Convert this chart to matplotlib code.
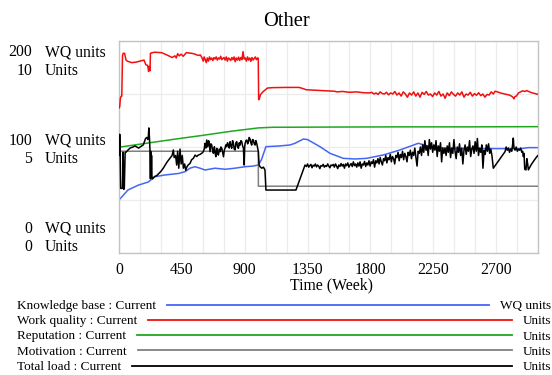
import numpy as np
import matplotlib
matplotlib.use("Agg")
import matplotlib.pyplot as plt
from matplotlib.lines import Line2D

plt.rcParams['font.family'] = ['Liberation Serif', 'DejaVu Serif']

# ---------------- data ----------------
title = "Other"
x_label = "Time (Week)"
x_ticks = [0, 450, 900, 1350, 1800, 2250, 2700]

series_names = ["Knowledge base : Current", "Work quality : Current",
                "Reputation : Current", "Motivation : Current",
                "Total load : Current"]
series_units = ["WQ units", "Units", "Units", "Units", "Units"]

# Knowledge base (WQ units)
kb_t = [0, 64, 138, 210, 258, 329, 425, 473, 508, 544, 580, 616, 687, 760, 830,
        902, 960, 997, 1020, 1052, 1150, 1224, 1260, 1320, 1350, 1439, 1511,
        1606, 1690, 1773, 1893, 2012, 2143, 2227, 2334, 2500, 2700, 2880, 2931, 3000]
kb_v = [50, 59.4, 64, 67, 72, 73.6, 75, 76.7, 80, 81.4, 80, 78.3, 80, 79, 80,
        81.4, 82, 83, 88, 100.3, 101, 101.9, 103.5, 107.5, 107, 100.3, 94,
        89.3, 88.7, 89.3, 92.5, 97.2, 103.5, 100.3, 98.8, 98.5, 98.5, 98.5, 99.4, 99.4]

# Work quality (Units)
wq_t = [0, 5, 10, 15, 20, 25, 30, 40, 50, 60, 90, 120, 154, 179, 192, 205, 212, 217,
        222, 225, 240, 255, 305, 340, 381, 400, 410, 420, 432, 445, 460, 482, 520,
        545, 565, 583, 595, 603, 610, 618, 625, 632, 640, 648, 656, 664, 672, 680,
        688, 696, 704, 712, 720, 728, 736, 744, 752, 760, 768, 776, 784, 792, 800,
        808, 816, 824, 832, 840, 848, 856, 864, 872, 880, 888, 896, 904, 912, 920,
        928, 936, 944, 952, 960, 968, 976, 984, 992, 997, 1000, 1006, 1013, 1030,
        1063, 1100, 1200, 1290, 1320, 1341, 1400, 1450, 1500, 1543, 1560, 1600,
        1650, 1700, 1750, 1795, 1810, 1825, 1840, 1855, 1870, 1885, 1900, 1915,
        1930, 1945, 1960, 1975, 1990, 2005, 2020, 2035, 2050, 2065, 2080, 2095,
        2110, 2125, 2140, 2155, 2170, 2185, 2200, 2215, 2230, 2245, 2260, 2275,
        2290, 2305, 2320, 2335, 2350, 2365, 2380, 2395, 2410, 2425, 2440, 2455,
        2470, 2485, 2500, 2515, 2530, 2545, 2560, 2575, 2590, 2605, 2620, 2635,
        2650, 2665, 2680, 2692, 2710, 2730, 2750, 2765, 2780, 2795, 2810, 2820,
        2828, 2835, 2845, 2860, 2875, 2890, 2905, 2920, 2940, 2960, 2980, 3000]
wq_v = [6.84, 6.9, 7.3, 7.39, 7.4, 9.3, 9.42, 9.42, 9.1, 9.05, 8.98, 9.0, 9.06, 9.1,
        8.88, 8.85, 8.56, 8.8, 8.6, 9.42, 9.45, 9.47, 9.45, 9.35, 9.22, 9.3, 9.2,
        9.4, 9.3, 9.38, 9.28, 9.45, 9.42, 9.38, 9.32, 9.34, 9.2, 9.05, 9.25, 9.1,
        8.98, 9.2, 9.05, 9.25, 9.12, 9.2, 9.08, 9.22, 9.15, 9.25, 9.1, 9.2, 9.15,
        9.28, 9.12, 9.18, 9.22, 9.1, 9.25, 9.05, 9.2, 9.15, 9.08, 9.22, 9.12, 9.25,
        9.02, 9.2, 9.1, 9.24, 9.08, 9.22, 9.12, 9.5, 9.15, 9.2, 9.05, 9.25, 9.1,
        9.2, 9.04, 9.22, 9.1, 9.18, 9.25, 9.12, 9.2, 9.19, 7.23, 7.3, 7.47, 7.6,
        7.78, 7.8, 7.81, 7.81, 7.75, 7.7, 7.68, 7.66, 7.65, 7.63, 7.6, 7.62, 7.58,
        7.6, 7.56, 7.55, 7.58, 7.5, 7.55, 7.48, 7.6, 7.52, 7.5, 7.58, 7.46, 7.55,
        7.5, 7.62, 7.45, 7.55, 7.4, 7.6, 7.5, 7.35, 7.55, 7.45, 7.6, 7.4, 7.55,
        7.35, 7.58, 7.48, 7.62, 7.45, 7.5, 7.38, 7.55, 7.45, 7.62, 7.4, 7.5, 7.3,
        7.55, 7.42, 7.6, 7.48, 7.4, 7.55, 7.45, 7.6, 7.35, 7.5, 7.45, 7.58, 7.4,
        7.52, 7.44, 7.56, 7.42, 7.5, 7.35, 7.48, 7.45, 7.6, 7.5, 7.63, 7.6, 7.55,
        7.52, 7.5, 7.47, 7.45, 7.4, 7.35, 7.27, 7.38, 7.4, 7.55, 7.6, 7.65, 7.62,
        7.66, 7.6, 7.55, 7.52, 7.48]

# Reputation (Units)
rep_t = [0, 200, 400, 600, 800, 997, 1100, 1500, 2000, 2500, 3000]
rep_v = [4.99, 5.18, 5.37, 5.55, 5.74, 5.90, 5.93, 5.94, 5.95, 5.95, 5.96]

# Motivation (Units)
mot_t = [0, 997, 998, 3000]
mot_v = [4.8, 4.8, 3.15, 3.15]

# Total load (Units)
tl_t = [0, 2, 5, 8, 12, 18, 25, 30, 34, 38, 44, 50, 56, 79, 100, 115, 140, 174,
        190, 200, 206, 210, 214, 218, 222, 225, 227, 230, 233, 236, 240, 253, 270,
        300, 317, 345, 365, 380, 389, 395, 405, 413, 420, 428, 437, 445, 453, 461,
        470, 478, 485, 495, 509,
        520, 533, 545, 556, 568, 580, 592, 604, 610, 616, 622, 628, 635, 641, 645,
        652, 658, 664, 670, 676, 683, 688, 693, 700, 706, 712, 718, 724, 730, 736,
        742, 748, 754, 759, 765, 771, 777, 783, 789, 795, 801, 807, 813, 819, 825,
        831, 837, 843, 849, 855, 861, 867, 873, 879, 885, 891, 896, 900, 903, 909,
        915, 921, 927, 932, 938, 944, 950, 956, 962, 968, 974, 980, 986, 990, 993,
        998, 1003, 1010, 1022, 1034, 1045, 1052, 1267,
        1332, 1342, 1350, 1358, 1366, 1374, 1382, 1390, 1398, 1406, 1414, 1422,
        1430, 1438, 1446, 1454, 1462, 1470, 1478, 1486, 1494, 1502, 1510, 1518,
        1526, 1534, 1542, 1550, 1558, 1566, 1574, 1582, 1590, 1598, 1606, 1614,
        1622, 1630, 1638, 1646, 1654, 1662, 1670, 1678, 1686,
        1694, 1702, 1710, 1718, 1726, 1734, 1742, 1750, 1758, 1766, 1774, 1782,
        1790, 1798, 1806, 1814, 1822, 1830, 1838, 1846, 1854, 1862, 1870, 1878,
        1886, 1894, 1902, 1910, 1918, 1926, 1934, 1942, 1950, 1958, 1966, 1974,
        1982, 1990, 1998, 2006, 2014, 2022, 2030, 2038, 2046, 2054, 2062, 2070,
        2078, 2086, 2094, 2102, 2110, 2118, 2126, 2134, 2142, 2150, 2158, 2166,
        2174, 2182, 2190, 2198, 2206, 2214, 2222, 2230, 2238, 2246, 2254, 2262,
        2270, 2278, 2286, 2294, 2302, 2310, 2318, 2326, 2334,
        2342, 2350, 2358, 2366, 2374, 2382, 2390, 2398, 2406, 2414, 2422, 2430,
        2438, 2446, 2454, 2462, 2470, 2478, 2486, 2494, 2502, 2510, 2518, 2526,
        2534, 2542, 2550, 2558, 2566, 2574, 2582, 2590, 2598, 2606, 2614, 2622,
        2630, 2638, 2646, 2654, 2662, 2670, 2680,
        2764, 2772, 2780, 2788, 2796, 2804, 2812, 2818, 2823, 2828, 2836, 2844,
        2852, 2860, 2868, 2876, 2884, 2890, 2895, 2900, 2905, 2914, 2920, 2926,
        2931, 2950, 2970, 2991, 3000]
tl_v = [5.55, 4.6, 5.6, 4.9, 3.05, 3.05, 3.05, 4.75, 3.0, 3.05, 4.75, 4.75, 4.8,
        4.95, 5.0, 5.05, 4.95, 5.1, 5.4, 5.45, 5.35, 5.5, 5.9, 5.45, 4.8, 3.5, 4.8,
        3.55, 4.6, 3.6, 3.5, 3.6, 3.65, 3.85, 4.0, 4.3, 4.47, 4.6, 4.86, 4.5, 4.6,
        4.15, 4.8, 4.0, 4.9, 4.2, 4.6, 4.0, 4.2, 3.9, 4.05, 4.15, 4.23,
        4.4, 4.47, 4.62, 4.55, 4.62, 4.65, 4.70, 4.78, 4.9, 5.17, 4.95, 5.33, 5.01,
        5.3, 5.25, 4.78, 5.15, 5.09, 4.85, 4.70, 5.01, 4.75, 4.54, 4.94, 4.7, 4.62,
        4.9, 4.78, 5.0, 4.94, 4.75, 4.54, 4.85, 4.94, 5.1, 5.01, 5.2, 5.09, 4.95,
        5.25, 5.05, 4.94, 5.3, 5.17, 4.9, 4.86, 5.2, 5.25, 5.0, 4.94, 5.2, 5.09,
        5.3, 5.25, 5.05, 4.94, 4.15, 5.0, 5.17, 5.3, 5.33, 5.15, 5.25, 5.45, 5.38,
        5.2, 5.09, 5.35, 5.33, 5.15, 5.09, 5.3, 5.17, 5.05, 4.94, 4.78, 4.15, 4.07,
        4.0, 4.05, 3.92, 2.97, 2.97,
        4.15, 4.08, 4.2, 4.05, 4.12, 4.18, 4.02, 4.14, 4.1, 4.2, 4.06, 4.15, 4.1,
        3.98, 4.12, 4.1, 4.18, 4.05, 4.12, 4.08, 4.2, 4.1, 4.02, 4.15, 4.12, 4.18,
        4.05, 4.2, 4.1, 3.98, 4.15, 4.08, 4.22, 4.1, 4.18, 4.0, 4.2, 4.12, 4.25,
        4.05, 4.15, 4.22, 4.08, 4.3, 4.12,
        4.2, 4.05, 4.25, 4.1, 4.3, 4.0, 4.2, 4.15, 4.32, 4.08, 4.25, 4.15, 4.35,
        4.1, 4.3, 4.22, 4.4, 4.05, 4.35, 4.25, 4.45, 4.2, 4.5, 4.3, 4.15, 4.45,
        4.35, 4.6, 4.25, 4.5, 4.4, 4.65, 4.3, 4.55, 4.45, 4.2, 4.6, 4.5, 4.75,
        4.35, 4.65, 4.5, 4.8, 4.4, 4.7, 4.55, 4.3, 4.75, 4.6, 4.85, 4.45, 4.75,
        4.6, 4.95, 4.5, 4.1, 4.8, 4.7, 5.0, 4.6, 5.1, 4.75, 5.3, 4.85, 5.05, 4.6,
        5.35, 4.9, 5.2, 4.75, 5.1, 4.85, 5.3, 4.55, 5.05, 4.8, 5.2, 4.3, 4.95,
        4.7, 4.95,
        4.6, 5.05, 4.75, 5.2, 4.5, 4.95, 4.7, 5.35, 4.8, 4.45, 5.0, 4.75, 5.15,
        4.6, 4.95, 4.2, 4.85, 5.1, 4.65, 5.0, 4.8, 5.3, 4.55, 4.9, 5.05, 4.7,
        5.25, 4.8, 5.4, 4.6, 4.95, 4.75, 5.1, 4.0, 4.85, 4.65, 5.1, 4.8, 5.15,
        4.7, 4.9, 4.6, 4.0,
        4.78, 5.0, 4.85, 4.95, 4.75, 4.9, 4.8, 5.1, 5.42, 4.95, 4.85, 5.0, 4.8,
        4.9, 4.85, 4.95, 4.75, 4.8, 4.55, 4.7, 3.95, 3.92, 4.45, 4.2, 3.92, 4.15,
        4.35, 4.54, 4.6]

colors = ["#4466f5", "#f01010", "#20a820", "#808080", "#000000"]

# ---------------- figure ----------------
W, H = 552, 375
fig = plt.figure(figsize=(W / 100, H / 100), dpi=100)
L, R, T, B = 119, 538, 41, 253
ax = fig.add_axes([L / W, 1 - B / H, (R - L) / W, (B - T) / H])
ax.set_xlim(0, 3000)
ax.set_ylim(0, 200)
ax.set_xticks(np.arange(0, 3001, 150))
ax.set_yticks([0, 50, 100, 150, 200])
ax.tick_params(length=0, labelbottom=False, labelleft=False)
ax.grid(True, color="#ececec", lw=0.9)
ax.set_axisbelow(True)
for s in ax.spines.values():
    s.set_color("#c4c4c4")
    s.set_linewidth(1.0)

ax2 = ax.twinx()
ax2.set_ylim(0, 10)
ax2.set_xlim(0, 3000)
ax2.set_yticks([])
for s in ax2.spines.values():
    s.set_visible(False)

lw = 1.1
ax.plot(kb_t, kb_v, color=colors[0], lw=lw)
ax2.plot(wq_t, wq_v, color=colors[1], lw=lw)
ax2.plot(rep_t, rep_v, color=colors[2], lw=lw)
ax2.plot(mot_t, mot_v, color=colors[3], lw=lw)
ax2.plot(tl_t, tl_v, color=colors[4], lw=lw)

fs_axis = 11.3
# y labels: (value WQ, value Units, offsets of two baselines below gridline in px)
ylab = [(200, 10, 15.3, 33.8), (100, 5, -2.2, 15.8), (0, 0, -20.2, -1.7)]
for wqv, uv, o1, o2 in ylab:
    for txt, unit, off in [(f"{wqv}", "WQ units", o1), (f"{uv}", "Units", o2)]:
        ax.annotate(txt, xy=(32, wqv), xycoords=("figure pixels", "data"),
                    xytext=(0, -off), textcoords="offset pixels",
                    ha="right", va="baseline", fontsize=fs_axis, annotation_clip=False)
        ax.annotate(unit, xy=(45, wqv), xycoords=("figure pixels", "data"),
                    xytext=(0, -off), textcoords="offset pixels",
                    ha="left", va="baseline", fontsize=fs_axis, annotation_clip=False)

for xt in x_ticks:
    ax.annotate(str(xt), xy=(xt, 0), xycoords=("data", "axes fraction"),
                xytext=(0, -20.5), textcoords="offset pixels",
                ha="center", va="baseline", fontsize=fs_axis, annotation_clip=False)
fig.text(331 / W, 1 - 289.5 / H, x_label, ha="center", va="baseline", fontsize=fs_axis)
fig.text(286 / W, 1 - 26.5 / H, title, ha="center", va="baseline", fontsize=14.8)

# legend
fs_leg = 9.5
row_y = [304.8, 320.0, 335.2, 350.4, 365.6]
fig.canvas.draw()
rend = fig.canvas.get_renderer()
for i in range(5):
    yb = 1 - (row_y[i] + 4.3) / H
    t1 = fig.text(17 / W, yb, series_names[i], ha="left", va="baseline", fontsize=fs_leg)
    t2 = fig.text(551 / W, yb, series_units[i], ha="right", va="baseline", fontsize=fs_leg)
    e1 = t1.get_window_extent(rend)
    e2 = t2.get_window_extent(rend)
    x0 = (e1.x1 + 11) / W
    x1 = (e2.x0 - 11) / W
    yl = 1 - row_y[i] / H
    fig.add_artist(Line2D([x0, x1], [yl, yl], color=colors[i], lw=1.3,
                          transform=fig.transFigure))

fig.savefig("out.png", dpi=100)
